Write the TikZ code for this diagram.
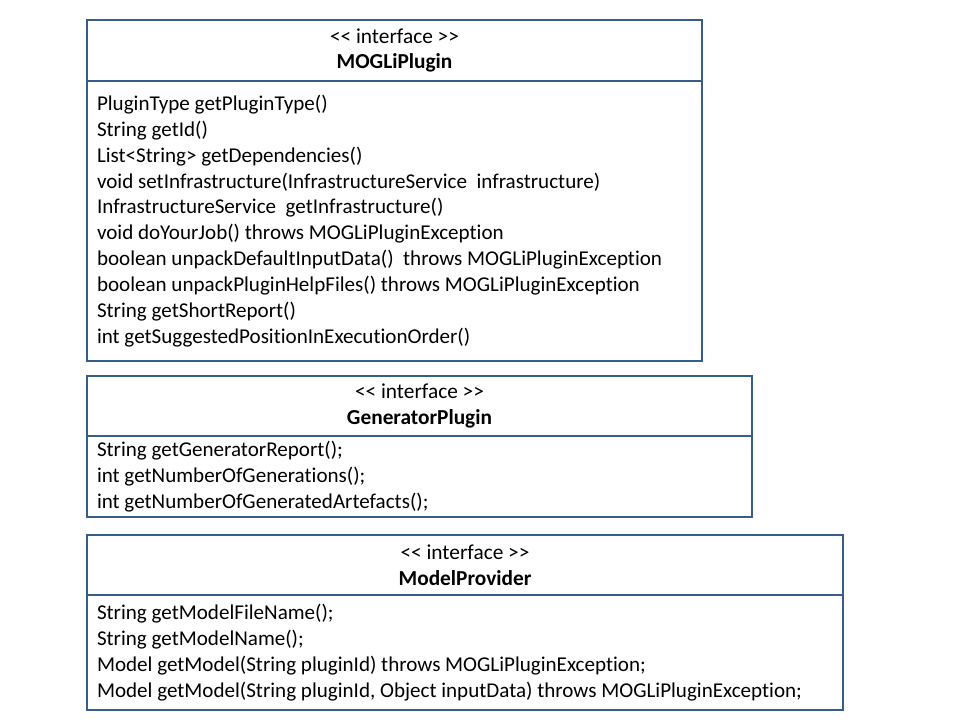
\documentclass[tikz,border=0pt]{standalone}
\usepackage{fontspec}
\setmainfont{Carlito}[Ligatures=NoCommon]
\usetikzlibrary{positioning}

\definecolor{umlblue}{HTML}{385D8A}

\begin{document}
\begin{tikzpicture}[x=0.75pt,y=-0.75pt]
\tikzset{
  umlbox/.style={draw=umlblue, line width=1.9pt, outer sep=0pt, rectangle},
  umlhead/.style={umlbox, align=center, inner sep=0pt, font=\fontsize{16}{19.4}\selectfont},
  umlbody/.style={umlbox, align=flush left, inner xsep=7.5pt, inner ysep=0pt, font=\fontsize{15.8}{19.4}\selectfont}
}
\useasboundingbox (0,0) rectangle (960,720);
% MOGLiPlugin
\node [umlhead, anchor=north west, minimum width=461.25pt, minimum height=45.75pt] (plugin) at (87,20)
  {<{}< interface >{}>\\ \textbf{MOGLiPlugin}};
\node [umlbody, below=0pt of plugin, text width=446.25pt, minimum height=210pt] (pluginbody)
  {PluginType getPluginType()\\
   String getId()\\
   List<String> getDependencies()\\
   void setInfrastructure(InfrastructureService\ \ infrastructure)\\
   InfrastructureService\ \ getInfrastructure()\\
   void doYourJob() throws MOGLiPluginException\\
   boolean unpackDefaultInputData()\ \ throws MOGLiPluginException\\
   boolean unpackPluginHelpFiles() throws MOGLiPluginException\\
   String getShortReport()\\
   int getSuggestedPositionInExecutionOrder()};
% GeneratorPlugin
\node [umlhead, anchor=north west, minimum width=498.75pt, minimum height=45pt] (generator) at (87,376)
  {<{}< interface >{}>\\ \textbf{GeneratorPlugin}};
\node [umlbody, below=0pt of generator, text width=483.75pt, minimum height=60.75pt] (generatorbody)
  {String getGeneratorReport();\\
   int getNumberOfGenerations();\\
   int getNumberOfGeneratedArtefacts();};
% ModelProvider
\node [umlhead, anchor=north west, minimum width=567pt, minimum height=45pt] (provider) at (87,535)
  {<{}< interface >{}>\\ \textbf{ModelProvider}};
\node [umlbody, below=0pt of provider, text width=552pt, minimum height=86.25pt] (providerbody)
  {String getModelFileName();\\
   String getModelName();\\
   Model getModel(String pluginId) throws MOGLiPluginException;\\
   Model getModel(String pluginId, Object inputData) throws MOGLiPluginException;};
\end{tikzpicture}
\end{document}
